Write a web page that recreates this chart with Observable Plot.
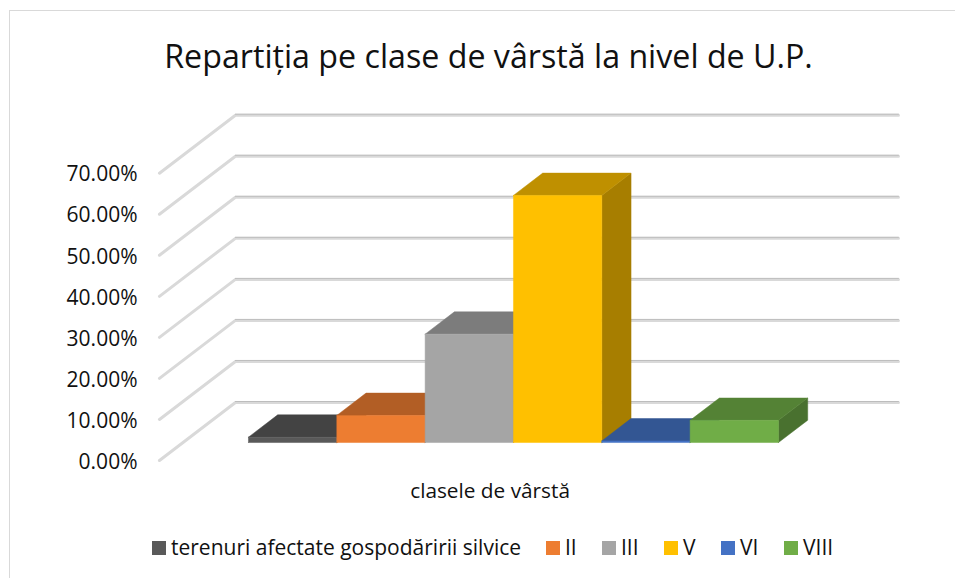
<!DOCTYPE html>
<html>
<head>
<meta charset="utf-8">
<script src="https://cdn.jsdelivr.net/npm/d3@7"></script>
<script src="https://cdn.jsdelivr.net/npm/@observablehq/plot@0.6"></script>
<style>
  html, body { margin: 0; padding: 0; background: #fff; overflow: hidden; }
  #page { position: relative; width: 955px; height: 578px; font-family: "Open Sans", sans-serif; color: #111; }
  #frame { position: absolute; left: 9px; top: 10px; width: 960px; height: 580px; border: 1px solid #d9d9d9; box-sizing: border-box; }
  #title { position: absolute; left: 0; top: 34px; width: 977px; text-align: center; font-size: 32.2px; line-height: 44px; color: #111; white-space: nowrap; }
  #chart { position: absolute; left: 0; top: 100px; }
  #legend { position: absolute; left: 152px; top: 534px; height: 26px; font-size: 21px; line-height: 26px; white-space: nowrap; }
  #legend span.item { position: absolute; top: 0; }
  #legend i { position: absolute; top: 7px; left: 0; width: 14px; height: 14px; }
  #legend b { position: absolute; top: 0; left: 19px; font-weight: 400; }
</style>
</head>
<body>
<div id="page">
  <div id="frame"></div>
  <div id="title">Repartiția pe clase de vârstă la nivel de U.P.</div>
  <div id="chart"></div>
  <div id="legend"></div>
</div>
<script>
// Data
const categories = ["terenuri afectate gospodăririi silvice", "II", "III", "V", "VI", "VIII"];
const shares = [1.3, 6.6, 26.4, 60.2, 0.4, 5.4];
const colors = ["#595959", "#ED7D31", "#A5A5A5", "#FFC000", "#4472C4", "#70AD47"];
const yTicks = [0, 10, 20, 30, 40, 50, 60, 70];
const yTitle = "clasele de vârstă";

// Oblique projection, in data units: depth 0 is the front edge of the floor, 1 the back wall
const depthX = 0.86, depthY = 14.13;
const wallLeft = -1.008, wallRight = 6.498;
const barFront = 0.31, barBack = 0.695, barShift = -0.267;
const project = (x, v, d) => ({x: x + d * depthX, y: v + d * depthY});

const shade = (c, k) => { const r = d3.rgb(c); return d3.rgb(r.r * k, r.g * k, r.b * k).formatHex(); };

// Gridlines: front-left corner, back-left corner, back-right corner
const wall = yTicks.flatMap(t => [
  {t, ...project(wallLeft, t, 0)},
  {t, ...project(wallLeft, t, 1)},
  {t, ...project(wallRight, t, 1)}
]);
const backEdge = yTicks.flatMap(t => [
  {t, ...project(wallLeft, t, 1)},
  {t, ...project(wallRight, t, 1)}
]);

// Bar faces, drawn left to right so each bar covers its neighbour's hidden part
const faces = categories.flatMap((c, i) => {
  const l = i + barShift, r = i + 1 + barShift, v = shares[i], col = colors[i];
  return [
    {id: i + "side", fill: shade(col, 0.655), pts: [project(r, 0, barFront), project(r, 0, barBack), project(r, v, barBack), project(r, v, barFront)]},
    {id: i + "top", fill: shade(col, 0.75), pts: [project(l, v, barFront), project(r, v, barFront), project(r, v, barBack), project(l, v, barBack)]},
    {id: i + "front", fill: col, pts: [project(l, 0, barFront), project(r, 0, barFront), project(r, v, barFront), project(l, v, barFront)]}
  ];
}).flatMap(f => [...f.pts, f.pts[0]].map(p => ({...p, id: f.id, fill: f.fill})));

const chart = Plot.plot({
  width: 955,
  height: 400,
  marginLeft: 148,
  marginTop: 0, marginRight: 0, marginBottom: 0,
  x: {domain: [0, 6], range: [248, 778], axis: null},
  y: {domain: [0, 70], range: [360, 72.7]},
  color: {type: "identity"},
  style: {fontFamily: "'Open Sans', sans-serif", color: "#111", background: "transparent", overflow: "visible"},
  marks: [
    Plot.line(wall, {x: "x", y: "y", z: "t", stroke: "#d9d9d9", strokeWidth: 3, curve: "linear", strokeLinejoin: "miter"}),
    Plot.line(backEdge, {x: "x", y: "y", z: "t", stroke: "#bdbdbd", strokeWidth: 1, dy: -1}),
    Plot.line(faces, {x: "x", y: "y", z: "id", fill: "fill", stroke: "fill", strokeWidth: 0.5}),
    Plot.axisY({ticks: yTicks, tickSize: 0, tickPadding: 11, fontSize: 21, dy: 1.5, tickFormat: d => d.toFixed(2) + "%", label: null}),
    Plot.text([yTitle], {x: [2.735], frameAnchor: "bottom", dy: -3, fontSize: 20.8, fill: "#111"})
  ]
});
document.getElementById("chart").appendChild(chart);

// Legend
const legendX = [0, 394, 450, 512, 569, 632];
const legend = document.getElementById("legend");
categories.forEach((c, i) => {
  const s = document.createElement("span");
  s.className = "item";
  s.style.left = legendX[i] + "px";
  const sw = document.createElement("i");
  sw.style.background = colors[i];
  const t = document.createElement("b");
  t.textContent = c;
  s.append(sw, t);
  legend.appendChild(s);
});
</script>
</body>
</html>
